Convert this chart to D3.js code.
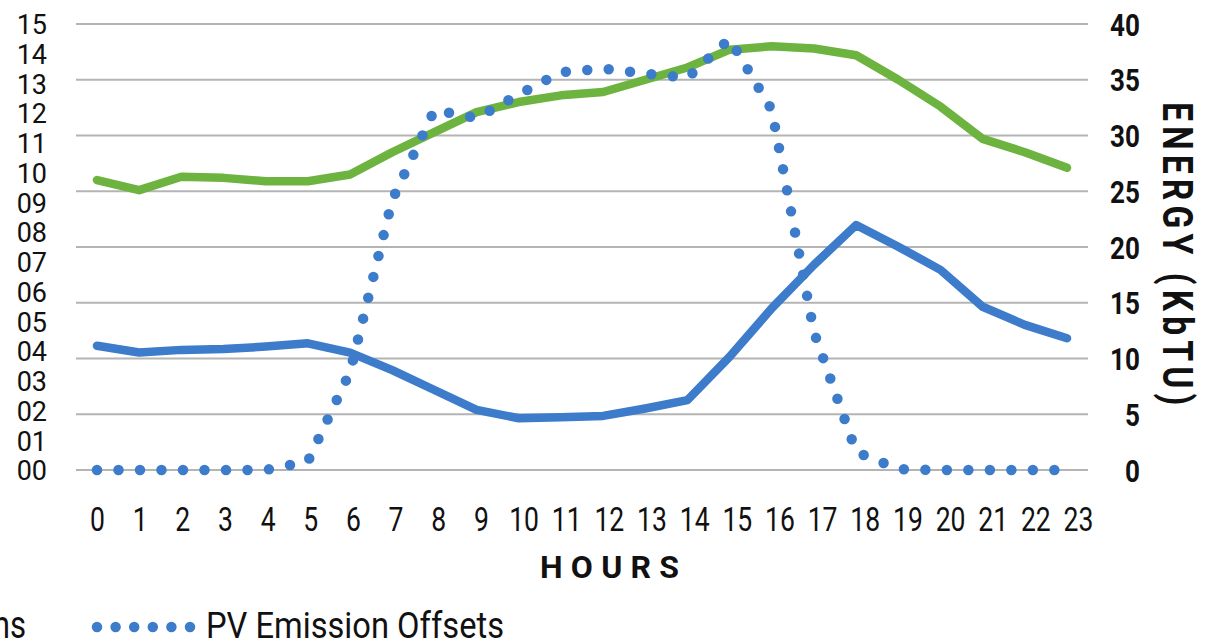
<!DOCTYPE html>
<html><head><meta charset="utf-8">
<script src="https://cdn.jsdelivr.net/npm/d3@7"></script>
<style>
html,body{margin:0;padding:0;background:#fff;overflow:hidden}
svg{display:block;font-family:Roboto,"Noto Sans",sans-serif}
</style></head><body>
<svg id="chart" width="1223" height="644"></svg>
<script>
// ---- data ----
const hours = [0,1,2,3,4,5,6,7,8,9,10,11,12,13,14,15,16,17,18,19,20,21,22,23];
const hourLabels = ["0","1","2","3","4","5","6","7","8","9","10","11","12","13","14","15","16","17","18","19","20","21","22","23"];
// green line, right axis (kBtu)
const energyKbtu = [26.0,25.1,26.3,26.2,25.9,25.9,26.5,28.5,30.3,32.1,33.0,33.6,33.9,35.0,36.1,37.7,38.0,37.8,37.2,35.0,32.6,29.7,28.5,27.1];
// solid blue line, left axis
const gridEmissions = [4.18,3.95,4.04,4.07,4.15,4.26,3.95,3.36,2.69,2.02,1.74,1.77,1.82,2.07,2.35,3.81,5.44,6.90,8.24,7.51,6.73,5.49,4.88,4.43];
// dotted blue line, left axis
const pvOffsets = [0,0,0,0,0,0.29,3.30,9.08,12.11,11.84,12.63,13.38,13.50,13.33,13.19,14.50,12.11,4.64,0.61,0.03,0,0,0,0];
const leftTicks = [0,1,2,3,4,5,6,7,8,9,10,11,12,13,14,15];
const leftTickLabels = ["00","01","02","03","04","05","06","07","08","09","10","11","12","13","14","15"];
const rightTicks = [0,5,10,15,20,25,30,35,40];
const xTitle = "HOURS";
const rightTitle = "ENERGY (KbTU)";
const legendLabels = ["Grid Emissions","PV Emission Offsets"];

// ---- styles ----
const BLUE = "#3d7cca", GREEN = "#6db33f", GRID = "#b4b4b4";

const svg = d3.select("#chart");
const yLeft = d3.scaleLinear().domain([0,15]).range([470,24]);
const yRight = d3.scaleLinear().domain([0,40]).range([470,24]);
const xData = d3.scaleLinear().domain([0,23]).range([97,1067]);
const xLabel = d3.scalePoint().domain(hourLabels).range([97,1078]);
const plotX0 = 76, plotX1 = 1088;

// gridlines
svg.append("g").selectAll("line").data(rightTicks).join("line")
  .attr("x1",plotX0).attr("x2",plotX1)
  .attr("y1",d=>yRight(d)).attr("y2",d=>yRight(d))
  .attr("stroke",GRID).attr("stroke-width",2);

// left axis
const gL = svg.append("g").attr("transform","translate(47,0)")
  .call(d3.axisLeft(yLeft).tickValues(leftTicks).tickSize(0).tickPadding(0)
        .tickFormat((d,i)=>leftTickLabels[i]));
gL.select(".domain").remove();
gL.selectAll("text").attr("font-size",27).attr("font-family","Roboto").attr("fill","#111").attr("dy","0.36em");

// right axis
const gR = svg.append("g").attr("transform","translate(1140,0)")
  .call(d3.axisLeft(yRight).tickValues(rightTicks).tickSize(0).tickPadding(0));
gR.select(".domain").remove();
gR.selectAll("text").attr("font-size",31).attr("font-weight","bold").attr("font-family","Roboto")
  .attr("fill","#111").attr("dy","0.36em").attr("transform","scale(0.84,1)");

// x axis
const gX = svg.append("g")
  .call(d3.axisBottom(xLabel).tickSize(0).tickPadding(0));
gX.select(".domain").remove();
gX.selectAll("text").attr("font-size",34).attr("font-family","Roboto").attr("fill","#111")
  .attr("y",531).attr("dy",0).attr("x",0).attr("transform","scale(0.78,1)");

// x title
svg.append("text").text(xTitle).attr("x",540).attr("y",578)
  .attr("font-size",32).attr("font-weight","bold").attr("fill","#111")
  .attr("textLength",139).attr("lengthAdjust","spacing");

// right title
svg.append("g").attr("transform","translate(1163,102) rotate(90) scale(0.8,1)")
  .append("text").text(rightTitle).attr("x",0).attr("y",0)
  .attr("font-size",42).attr("font-weight","bold").attr("fill","#111")
  .attr("textLength",379).attr("lengthAdjust","spacing");

// lines
const lineR = d3.line().x((d,i)=>xData(hours[i])).y(d=>yRight(d));
const lineL = d3.line().x((d,i)=>xData(hours[i])).y(d=>yLeft(d));
svg.append("path").datum(energyKbtu).attr("d",lineR).attr("fill","none")
  .attr("stroke",GREEN).attr("stroke-width",8.5).attr("stroke-linejoin","round").attr("stroke-linecap","round");
svg.append("path").datum(gridEmissions).attr("d",lineL).attr("fill","none")
  .attr("stroke",BLUE).attr("stroke-width",8.5).attr("stroke-linejoin","round").attr("stroke-linecap","round");
svg.append("path").datum(pvOffsets).attr("d",lineL).attr("fill","none")
  .attr("stroke",BLUE).attr("stroke-width",10.5).attr("stroke-linecap","round")
  .attr("stroke-dasharray","0 21.5");

// legend
const lg = svg.append("g");
lg.append("g").attr("transform","translate(26,638) scale(0.82,1)")
  .append("text").text(legendLabels[0]).attr("text-anchor","end")
  .attr("font-size",38).attr("fill","#111");
lg.append("line").attr("x1",97).attr("x2",191).attr("y1",627).attr("y2",627)
  .attr("stroke",BLUE).attr("stroke-width",10.5).attr("stroke-linecap","round")
  .attr("stroke-dasharray","0 18.6");
lg.append("text").text(legendLabels[1]).attr("x",206).attr("y",638)
  .attr("font-size",37).attr("fill","#111")
  .attr("textLength",298).attr("lengthAdjust","spacingAndGlyphs");
</script>
</body></html>
